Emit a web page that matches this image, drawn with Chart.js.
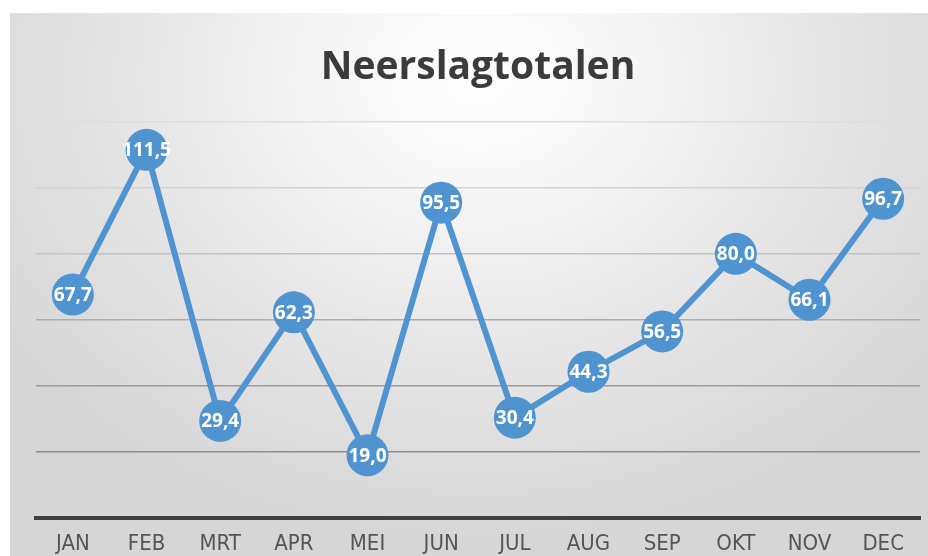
<!DOCTYPE html>
<html>
<head>
<meta charset="utf-8">
<script src="https://cdn.jsdelivr.net/npm/chart.js@4.4.1/dist/chart.umd.min.js"></script>
<style>
  html, body { margin: 0; padding: 0; background: #ffffff; width: 928px; height: 556px; overflow: hidden; }
  #wrap {
    position: absolute; left: 10px; top: 13px; width: 918px; height: 543px;
    background: radial-gradient(ellipse 62% 85% at 51% 12%, #ffffff 0%, #f6f6f6 25%, #e6e6e6 60%, #d6d6d6 100%);
  }
  canvas { display: block; }
</style>
</head>
<body>
<div id="wrap"><canvas id="c" width="918" height="543"></canvas></div>
<script>
const titleText = "Neerslagtotalen";
const months = ["JAN", "FEB", "MRT", "APR", "MEI", "JUN", "JUL", "AUG", "SEP", "OKT", "NOV", "DEC"];
const rainfall = [67.7, 111.5, 29.4, 62.3, 19.0, 95.5, 30.4, 44.3, 56.5, 80.0, 66.1, 96.7];
const yMin = 0, yMax = 120, yStep = 20;

const blue = "#5093d1";

const gridColors = { 20: "#8e8e8e", 40: "#9c9c9c", 60: "#adadad", 80: "#c3c3c3", 100: "#d3d3d3", 120: "#dedede" };

const valueLabels = {
  id: "valueLabels",
  afterDatasetsDraw(chart) {
    const ctx = chart.ctx;
    const meta = chart.getDatasetMeta(0);
    const data = chart.data.datasets[0].data;
    ctx.save();
    ctx.font = "bold 19px 'Open Sans', sans-serif";
    ctx.fillStyle = "#ffffff";
    ctx.textAlign = "center";
    ctx.textBaseline = "middle";
    meta.data.forEach((pt, i) => {
      const txt = data[i].toFixed(1).replace(".", ",");
      ctx.fillText(txt, pt.x, pt.y + 1);
    });
    ctx.restore();
  }
};

new Chart(document.getElementById("c"), {
  type: "line",
  data: {
    labels: months,
    datasets: [{
      data: rainfall,
      borderColor: blue,
      backgroundColor: blue,
      borderWidth: 6,
      tension: 0,
      pointRadius: 21,
      pointHoverRadius: 21,
      pointBorderWidth: 0,
      pointBackgroundColor: blue,
      clip: false
    }]
  },
  options: {
    responsive: false,
    animation: false,
    events: [],
    layout: { autoPadding: false, padding: { left: 26, right: 8, top: 0, bottom: 0 } },
    plugins: {
      legend: { display: false },
      tooltip: { enabled: false },
      title: {
        display: true,
        text: titleText,
        color: "#3b3b3b",
        font: { family: "'Open Sans', sans-serif", size: 39, weight: "bold", lineHeight: 1.2 },
        padding: { top: 31, bottom: 31 }
      }
    },
    scales: {
      x: {
        offset: true,
        grid: { display: false, drawTicks: false },
        border: { display: true, color: "#3f3f3f", width: 4 },
        ticks: {
          color: "#555555",
          padding: 15,
          font: { family: "'Liberation Sans Narrow', 'DejaVu Sans Condensed', sans-serif", size: 22, lineHeight: 1 },
          maxRotation: 0,
          autoSkip: false
        },
        afterFit(scale) {
          scale.height = 38;
          scale.paddingLeft = 0;
          scale.paddingRight = 0;
        }
      },
      y: {
        min: yMin,
        max: yMax,
        ticks: { display: false, stepSize: yStep },
        border: { display: false },
        grid: {
          drawTicks: false,
          lineWidth: 1.5,
          color: (c) => (c.tick && gridColors[c.tick.value]) ? gridColors[c.tick.value] : "rgba(0,0,0,0)"
        },
        afterFit(scale) {
          scale.width = 0;
        }
      }
    }
  },
  plugins: [valueLabels]
});
</script>
</body>
</html>
